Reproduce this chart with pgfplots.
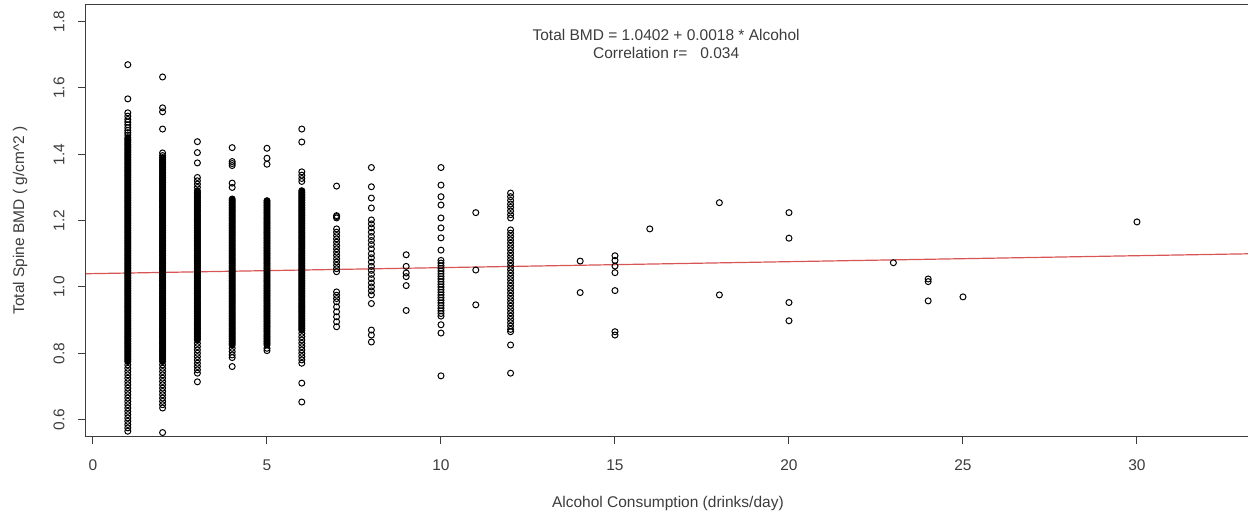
\documentclass[border=0pt]{standalone}
\usepackage{pgfplots}
\pgfplotsset{compat=1.18}
\usepackage{fontspec}
\setmainfont{Liberation Sans}
\definecolor{regred}{RGB}{215,85,85}
\definecolor{axgray}{RGB}{60,60,60}
\newcommand{\rfont}{\fontsize{15.5}{18}\selectfont}
\begin{document}
\begin{tikzpicture}
\path[use as bounding box, clip] (-86pt,-77.7pt) rectangle (1162pt,436.2pt);
\begin{axis}[
  at={(0pt,0pt)}, anchor=south west,
  scale only axis, width=1169.3pt, height=431.2pt,
  xmin=-0.201, xmax=33.4, ymin=0.55, ymax=1.85,
  axis line style={axgray, line width=1pt},
  tick align=outside, xtick pos=left, ytick pos=left,
  major tick length=8pt,
  every tick/.style={axgray, line width=1pt},
  xtick={0,5,10,15,20,25,30},
  xticklabels={0,5,10,15,20,25,30},
  ytick={0.6,0.8,1.0,1.2,1.4,1.6,1.8},
  yticklabels={0.6,0.8,1.0,1.2,1.4,1.6,1.8},
  /pgf/number format/assume math mode=true,
  every tick label/.append style={font=\rfont, text=axgray},
  yticklabel style={rotate=90, anchor=south},
  xticklabel shift=12pt,
  yticklabel shift=10pt,
  pts/.style={only marks, mark=o, mark size=3pt, mark options={line width=1pt, draw=black}},
  dense/.style={only marks, mark=*, mark size=3pt, mark options={line width=1pt, draw=black, fill=black}},
  clip=false,
]
% x = 1
\addplot[pts] coordinates {(1,1.670)(1,1.567)(1,1.525)(1,1.515)(1,1.505)(1,1.497)(1,1.489)(1,1.480)(1,1.472)(1,1.465)(1,1.458)
(1,0.765)(1,0.755)(1,0.745)(1,0.735)(1,0.725)(1,0.715)(1,0.705)(1,0.695)(1,0.685)(1,0.675)(1,0.665)(1,0.655)(1,0.645)(1,0.635)(1,0.625)(1,0.615)(1,0.605)(1,0.595)(1,0.585)(1,0.575)(1,0.565)};
\addplot[dense] coordinates {(1,0.775)(1,0.780)(1,0.785)(1,0.790)(1,0.795)
(1,0.800)(1,0.805)(1,0.810)(1,0.815)(1,0.820)(1,0.825)(1,0.830)(1,0.835)(1,0.840)(1,0.845)(1,0.850)(1,0.855)(1,0.860)(1,0.865)(1,0.870)(1,0.875)(1,0.880)(1,0.885)(1,0.890)(1,0.895)
(1,0.900)(1,0.905)(1,0.910)(1,0.915)(1,0.920)(1,0.925)(1,0.930)(1,0.935)(1,0.940)(1,0.945)(1,0.950)(1,0.955)(1,0.960)(1,0.965)(1,0.970)(1,0.975)(1,0.980)(1,0.985)(1,0.990)(1,0.995)
(1,1.000)(1,1.005)(1,1.010)(1,1.015)(1,1.020)(1,1.025)(1,1.030)(1,1.035)(1,1.040)(1,1.045)(1,1.050)(1,1.055)(1,1.060)(1,1.065)(1,1.070)(1,1.075)(1,1.080)(1,1.085)(1,1.090)(1,1.095)
(1,1.100)(1,1.105)(1,1.110)(1,1.115)(1,1.120)(1,1.125)(1,1.130)(1,1.135)(1,1.140)(1,1.145)(1,1.150)(1,1.155)(1,1.160)(1,1.165)(1,1.170)(1,1.175)(1,1.180)(1,1.185)(1,1.190)(1,1.195)
(1,1.200)(1,1.205)(1,1.210)(1,1.215)(1,1.220)(1,1.225)(1,1.230)(1,1.235)(1,1.240)(1,1.245)(1,1.250)(1,1.255)(1,1.260)(1,1.265)(1,1.270)(1,1.275)(1,1.280)(1,1.285)(1,1.290)(1,1.295)
(1,1.300)(1,1.305)(1,1.310)(1,1.315)(1,1.320)(1,1.325)(1,1.330)(1,1.335)(1,1.340)(1,1.345)(1,1.350)(1,1.355)(1,1.360)(1,1.365)(1,1.370)(1,1.375)(1,1.380)(1,1.385)(1,1.390)(1,1.395)
(1,1.400)(1,1.405)(1,1.410)(1,1.415)(1,1.420)(1,1.425)(1,1.430)(1,1.435)(1,1.440)(1,1.445)(1,1.450)};
% x = 2
\addplot[pts] coordinates {(2,1.633)(2,1.540)(2,1.528)(2,1.476)(2,1.404)(2,1.396)
(2,0.765)(2,0.755)(2,0.745)(2,0.735)(2,0.725)(2,0.715)(2,0.705)(2,0.695)(2,0.685)(2,0.675)(2,0.665)(2,0.655)(2,0.645)(2,0.635)(2,0.561)};
\addplot[dense] coordinates {(2,0.775)(2,0.780)(2,0.785)(2,0.790)(2,0.795)
(2,0.800)(2,0.805)(2,0.810)(2,0.815)(2,0.820)(2,0.825)(2,0.830)(2,0.835)(2,0.840)(2,0.845)(2,0.850)(2,0.855)(2,0.860)(2,0.865)(2,0.870)(2,0.875)(2,0.880)(2,0.885)(2,0.890)(2,0.895)
(2,0.900)(2,0.905)(2,0.910)(2,0.915)(2,0.920)(2,0.925)(2,0.930)(2,0.935)(2,0.940)(2,0.945)(2,0.950)(2,0.955)(2,0.960)(2,0.965)(2,0.970)(2,0.975)(2,0.980)(2,0.985)(2,0.990)(2,0.995)
(2,1.000)(2,1.005)(2,1.010)(2,1.015)(2,1.020)(2,1.025)(2,1.030)(2,1.035)(2,1.040)(2,1.045)(2,1.050)(2,1.055)(2,1.060)(2,1.065)(2,1.070)(2,1.075)(2,1.080)(2,1.085)(2,1.090)(2,1.095)
(2,1.100)(2,1.105)(2,1.110)(2,1.115)(2,1.120)(2,1.125)(2,1.130)(2,1.135)(2,1.140)(2,1.145)(2,1.150)(2,1.155)(2,1.160)(2,1.165)(2,1.170)(2,1.175)(2,1.180)(2,1.185)(2,1.190)(2,1.195)
(2,1.200)(2,1.205)(2,1.210)(2,1.215)(2,1.220)(2,1.225)(2,1.230)(2,1.235)(2,1.240)(2,1.245)(2,1.250)(2,1.255)(2,1.260)(2,1.265)(2,1.270)(2,1.275)(2,1.280)(2,1.285)(2,1.290)(2,1.295)
(2,1.300)(2,1.305)(2,1.310)(2,1.315)(2,1.320)(2,1.325)(2,1.330)(2,1.335)(2,1.340)(2,1.345)(2,1.350)(2,1.355)(2,1.360)(2,1.365)(2,1.370)(2,1.375)(2,1.380)(2,1.385)(2,1.390)};
% x = 3
\addplot[pts] coordinates {(3,1.438)(3,1.405)(3,1.374)(3,1.330)(3,1.320)(3,1.310)(3,1.300)
(3,0.830)(3,0.820)(3,0.810)(3,0.800)(3,0.790)(3,0.780)(3,0.770)(3,0.760)(3,0.750)(3,0.740)(3,0.714)};
\addplot[dense] coordinates {(3,0.840)(3,0.845)(3,0.850)(3,0.855)(3,0.860)(3,0.865)(3,0.870)(3,0.875)(3,0.880)(3,0.885)(3,0.890)(3,0.895)
(3,0.900)(3,0.905)(3,0.910)(3,0.915)(3,0.920)(3,0.925)(3,0.930)(3,0.935)(3,0.940)(3,0.945)(3,0.950)(3,0.955)(3,0.960)(3,0.965)(3,0.970)(3,0.975)(3,0.980)(3,0.985)(3,0.990)(3,0.995)
(3,1.000)(3,1.005)(3,1.010)(3,1.015)(3,1.020)(3,1.025)(3,1.030)(3,1.035)(3,1.040)(3,1.045)(3,1.050)(3,1.055)(3,1.060)(3,1.065)(3,1.070)(3,1.075)(3,1.080)(3,1.085)(3,1.090)(3,1.095)
(3,1.100)(3,1.105)(3,1.110)(3,1.115)(3,1.120)(3,1.125)(3,1.130)(3,1.135)(3,1.140)(3,1.145)(3,1.150)(3,1.155)(3,1.160)(3,1.165)(3,1.170)(3,1.175)(3,1.180)(3,1.185)(3,1.190)(3,1.195)
(3,1.200)(3,1.205)(3,1.210)(3,1.215)(3,1.220)(3,1.225)(3,1.230)(3,1.235)(3,1.240)(3,1.245)(3,1.250)(3,1.255)(3,1.260)(3,1.265)(3,1.270)(3,1.275)(3,1.280)(3,1.285)(3,1.290)};
% x = 4
\addplot[pts] coordinates {(4,1.420)(4,1.378)(4,1.372)(4,1.366)(4,1.313)(4,1.300)
(4,0.815)(4,0.805)(4,0.795)(4,0.787)(4,0.760)};
\addplot[dense] coordinates {(4,0.825)(4,0.830)(4,0.835)(4,0.840)(4,0.845)(4,0.850)(4,0.855)(4,0.860)(4,0.865)(4,0.870)(4,0.875)(4,0.880)(4,0.885)(4,0.890)(4,0.895)
(4,0.900)(4,0.905)(4,0.910)(4,0.915)(4,0.920)(4,0.925)(4,0.930)(4,0.935)(4,0.940)(4,0.945)(4,0.950)(4,0.955)(4,0.960)(4,0.965)(4,0.970)(4,0.975)(4,0.980)(4,0.985)(4,0.990)(4,0.995)
(4,1.000)(4,1.005)(4,1.010)(4,1.015)(4,1.020)(4,1.025)(4,1.030)(4,1.035)(4,1.040)(4,1.045)(4,1.050)(4,1.055)(4,1.060)(4,1.065)(4,1.070)(4,1.075)(4,1.080)(4,1.085)(4,1.090)(4,1.095)
(4,1.100)(4,1.105)(4,1.110)(4,1.115)(4,1.120)(4,1.125)(4,1.130)(4,1.135)(4,1.140)(4,1.145)(4,1.150)(4,1.155)(4,1.160)(4,1.165)(4,1.170)(4,1.175)(4,1.180)(4,1.185)(4,1.190)(4,1.195)
(4,1.200)(4,1.205)(4,1.210)(4,1.215)(4,1.220)(4,1.225)(4,1.230)(4,1.235)(4,1.240)(4,1.245)(4,1.250)(4,1.255)(4,1.260)(4,1.265)};
% x = 5
\addplot[pts] coordinates {(5,1.418)(5,1.388)(5,1.370)(5,0.815)(5,0.808)};
\addplot[dense] coordinates {(5,0.825)(5,0.830)(5,0.835)(5,0.840)(5,0.845)(5,0.850)(5,0.855)(5,0.860)(5,0.865)(5,0.870)(5,0.875)(5,0.880)(5,0.885)(5,0.890)(5,0.895)
(5,0.900)(5,0.905)(5,0.910)(5,0.915)(5,0.920)(5,0.925)(5,0.930)(5,0.935)(5,0.940)(5,0.945)(5,0.950)(5,0.955)(5,0.960)(5,0.965)(5,0.970)(5,0.975)(5,0.980)(5,0.985)(5,0.990)(5,0.995)
(5,1.000)(5,1.005)(5,1.010)(5,1.015)(5,1.020)(5,1.025)(5,1.030)(5,1.035)(5,1.040)(5,1.045)(5,1.050)(5,1.055)(5,1.060)(5,1.065)(5,1.070)(5,1.075)(5,1.080)(5,1.085)(5,1.090)(5,1.095)
(5,1.100)(5,1.105)(5,1.110)(5,1.115)(5,1.120)(5,1.125)(5,1.130)(5,1.135)(5,1.140)(5,1.145)(5,1.150)(5,1.155)(5,1.160)(5,1.165)(5,1.170)(5,1.175)(5,1.180)(5,1.185)(5,1.190)(5,1.195)
(5,1.200)(5,1.205)(5,1.210)(5,1.215)(5,1.220)(5,1.225)(5,1.230)(5,1.235)(5,1.240)(5,1.245)(5,1.250)(5,1.255)(5,1.260)};
% x = 6
\addplot[pts] coordinates {(6,1.476)(6,1.437)(6,1.347)(6,1.337)(6,1.327)(6,1.318)
(6,0.860)(6,0.850)(6,0.840)(6,0.830)(6,0.820)(6,0.810)(6,0.800)(6,0.790)(6,0.780)(6,0.770)(6,0.710)(6,0.653)};
\addplot[dense] coordinates {(6,0.870)(6,0.875)(6,0.880)(6,0.885)(6,0.890)(6,0.895)
(6,0.900)(6,0.905)(6,0.910)(6,0.915)(6,0.920)(6,0.925)(6,0.930)(6,0.935)(6,0.940)(6,0.945)(6,0.950)(6,0.955)(6,0.960)(6,0.965)(6,0.970)(6,0.975)(6,0.980)(6,0.985)(6,0.990)(6,0.995)
(6,1.000)(6,1.005)(6,1.010)(6,1.015)(6,1.020)(6,1.025)(6,1.030)(6,1.035)(6,1.040)(6,1.045)(6,1.050)(6,1.055)(6,1.060)(6,1.065)(6,1.070)(6,1.075)(6,1.080)(6,1.085)(6,1.090)(6,1.095)
(6,1.100)(6,1.105)(6,1.110)(6,1.115)(6,1.120)(6,1.125)(6,1.130)(6,1.135)(6,1.140)(6,1.145)(6,1.150)(6,1.155)(6,1.160)(6,1.165)(6,1.170)(6,1.175)(6,1.180)(6,1.185)(6,1.190)(6,1.195)
(6,1.200)(6,1.205)(6,1.210)(6,1.215)(6,1.220)(6,1.225)(6,1.230)(6,1.235)(6,1.240)(6,1.245)(6,1.250)(6,1.255)(6,1.260)(6,1.265)(6,1.270)(6,1.275)(6,1.280)(6,1.285)(6,1.290)};
% x = 7 .. 12
\addplot[pts] coordinates {(7,1.304)(7,1.215)(7,1.212)(7,1.208)(7,1.175)(7,1.165)(7,1.155)(7,1.145)(7,1.135)(7,1.125)(7,1.115)(7,1.105)(7,1.095)(7,1.085)(7,1.075)(7,1.065)(7,1.055)(7,1.046)
(7,0.985)(7,0.975)(7,0.965)(7,0.955)(7,0.940)(7,0.925)(7,0.910)(7,0.895)(7,0.880)};
\addplot[pts] coordinates {(8,1.360)(8,1.302)(8,1.268)(8,1.238)(8,1.202)(8,1.190)(8,1.178)(8,1.165)(8,1.152)(8,1.140)(8,1.128)(8,1.115)(8,1.100)(8,1.088)(8,1.075)(8,1.062)(8,1.050)(8,1.038)(8,1.025)(8,1.012)(8,1.000)(8,0.988)(8,0.976)(8,0.950)(8,0.870)(8,0.855)(8,0.834)};
\addplot[pts] coordinates {(9,1.097)(9,1.062)(9,1.042)(9,1.031)(9,1.004)(9,0.929)};
\addplot[pts] coordinates {(10,1.360)(10,1.307)(10,1.272)(10,1.247)(10,1.208)(10,1.178)(10,1.148)(10,1.111)
(10,1.080)(10,1.072)(10,1.064)(10,1.056)(10,1.048)(10,1.040)(10,1.032)(10,1.024)(10,1.016)(10,1.008)(10,1.000)(10,0.992)(10,0.984)(10,0.976)(10,0.968)(10,0.960)(10,0.952)(10,0.944)(10,0.936)(10,0.928)(10,0.920)(10,0.912)
(10,0.886)(10,0.861)(10,0.732)};
\addplot[pts] coordinates {(11,1.224)(11,1.051)(11,0.946)};
\addplot[pts] coordinates {(12,1.283)(12,1.272)(12,1.261)(12,1.250)(12,1.240)(12,1.229)(12,1.218)(12,1.208)
(12,1.172)(12,1.162)(12,1.152)(12,1.142)(12,1.132)(12,1.122)(12,1.112)(12,1.102)(12,1.092)(12,1.082)(12,1.072)(12,1.062)(12,1.052)(12,1.042)(12,1.032)(12,1.022)(12,1.012)(12,1.002)(12,0.992)(12,0.982)(12,0.972)(12,0.962)(12,0.952)(12,0.942)(12,0.932)(12,0.922)(12,0.912)(12,0.902)(12,0.892)(12,0.882)(12,0.872)(12,0.865)
(12,0.825)(12,0.740)};
% x >= 14
\addplot[pts] coordinates {(14,1.078)(14,0.983)
(15,1.094)(15,1.080)(15,1.063)(15,1.043)(15,0.989)(15,0.865)(15,0.855)
(16,1.175)
(18,1.254)(18,0.976)
(20,1.224)(20,1.147)(20,0.953)(20,0.898)
(23,1.073)
(24,1.024)(24,1.016)(24,0.958)
(25,0.970)
(30,1.196)};
% regression line
\addplot[regred, line width=1.2pt, no marks] coordinates {(-0.201,1.0398)(33.4,1.1003)};
% annotation and labels
\node[font=\rfont, text=axgray, align=center, anchor=center] at (axis cs:16.47,1.733)
  {Total BMD = 1.0402 + 0.0018 * Alcohol\\Correlation r= \ \ 0.034};
\node[font=\rfont, text=axgray, anchor=center] at ([yshift=-67pt]axis cs:16.52,0.55)
  {Alcohol Consumption (drinks/day)};
\node[font=\rfont, text=axgray, anchor=center, rotate=90] at ([xshift=-66pt]axis cs:-0.201,1.2)
  {Total Spine BMD ( g/cm\^{}2 )};
\end{axis}
\end{tikzpicture}
\end{document}
